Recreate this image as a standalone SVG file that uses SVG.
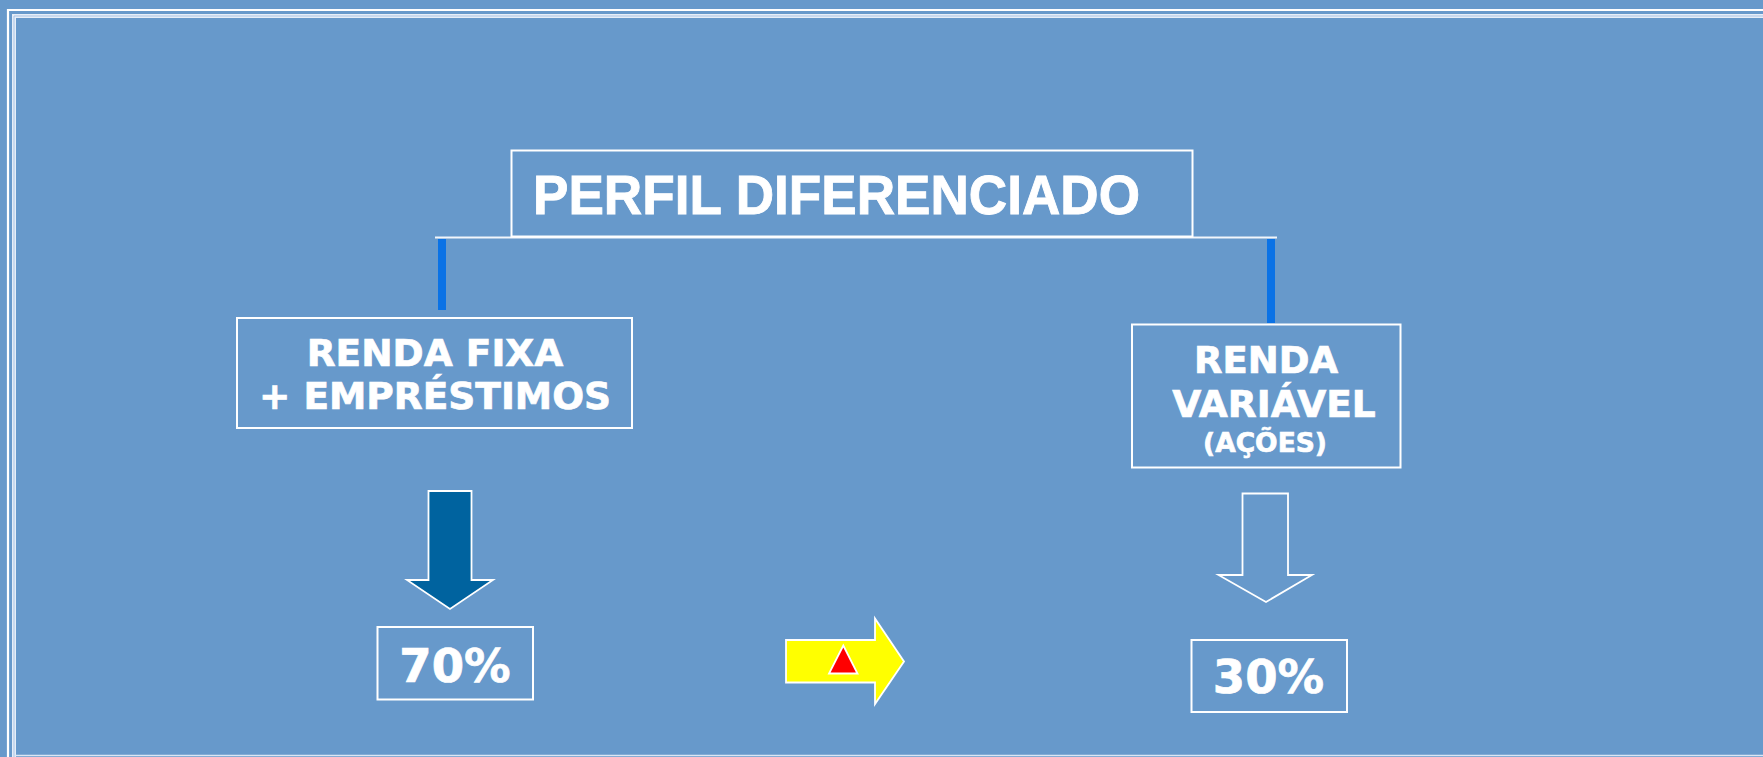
<svg xmlns="http://www.w3.org/2000/svg" width="1763" height="757" viewBox="0 0 1763 757">
<style>
.box{fill:none;stroke:#ffffff;stroke-width:2}
.t{fill:#ffffff;stroke:#ffffff;stroke-width:0.7;font-family:"DejaVu Sans",Verdana,sans-serif;font-weight:bold;text-anchor:middle}
.title{fill:#ffffff;stroke:#ffffff;stroke-width:0.9;font-family:"Liberation Sans",Arial,sans-serif;font-weight:bold}
.vbar{fill:#0A72E6}
</style>
<rect x="0" y="0" width="1763" height="757" fill="#6799CB"/>
<g id="frame">
<path d="M8 757 V10 H1763" fill="none" stroke="#ffffff" stroke-width="2.2"/>
<path d="M14 757 V16 H1763" fill="none" stroke="#E6EEF8" stroke-width="4"/>
<path d="M14 757 V16 H1763" fill="none" stroke="#A9C3E4" stroke-width="1"/>
<line x1="15" y1="755.5" x2="1763" y2="755.5" stroke="#DCE7F4" stroke-width="1.5"/>
</g>
<g id="connectors">
<line x1="435" y1="237.5" x2="1277" y2="237.5" stroke="#F2F6FB" stroke-width="2"/>
<rect class="vbar" x="438" y="239" width="8" height="71"/>
<rect class="vbar" x="1267" y="239" width="8" height="84"/>
</g>
<g id="title">
<rect class="box" x="511.5" y="150.5" width="681" height="86"/>
<text class="title" x="533" y="213.5" font-size="56" textLength="607" lengthAdjust="spacingAndGlyphs">PERFIL DIFERENCIADO</text>
</g>
<g id="renda-fixa">
<rect class="box" x="237" y="318" width="395" height="110"/>
<text class="t" x="435" y="365.5" font-size="37.5">RENDA FIXA</text>
<text class="t" x="435" y="409" font-size="37.5">+ EMPRÉSTIMOS</text>
</g>
<g id="renda-variavel">
<rect class="box" x="1132" y="324.5" width="268.5" height="143"/>
<text class="t" x="1266" y="372.5" font-size="37">RENDA</text>
<text class="t" x="1274" y="416.5" font-size="37.5">VARIÁVEL</text>
<text class="t" x="1265" y="451.5" font-size="26.5">(AÇÕES)</text>
</g>
<g id="arrow-left">
<path d="M428.5 491 H471.5 V580 H493 L450 609 L407 580 H428.5 Z" fill="#00639F" stroke="#ffffff" stroke-width="1.8" stroke-linejoin="miter"/>
</g>
<g id="pct-70">
<rect class="box" x="377.5" y="627" width="155.5" height="72.5"/>
<text class="t" x="455" y="681.5" font-size="46.5">70%</text>
</g>
<g id="arrow-mid">
<path d="M786 640 H875 V618.5 L904 661.5 L875 704 V682.5 H786 Z" fill="#FFFF00" stroke="#ffffff" stroke-width="1.8"/>
<path d="M843.3 645.5 L857.5 673.5 H829 Z" fill="#FF0000" stroke="#ffffff" stroke-width="1.8"/>
</g>
<g id="arrow-right">
<path d="M1242.5 493.5 H1288 V575 H1312 L1266 602 L1218.5 575 H1242.5 Z" fill="none" stroke="#ffffff" stroke-width="1.8"/>
</g>
<g id="pct-30">
<rect class="box" x="1191.5" y="640" width="155.5" height="72"/>
<text class="t" x="1268.5" y="692.5" font-size="46.5">30%</text>
</g>
</svg>
